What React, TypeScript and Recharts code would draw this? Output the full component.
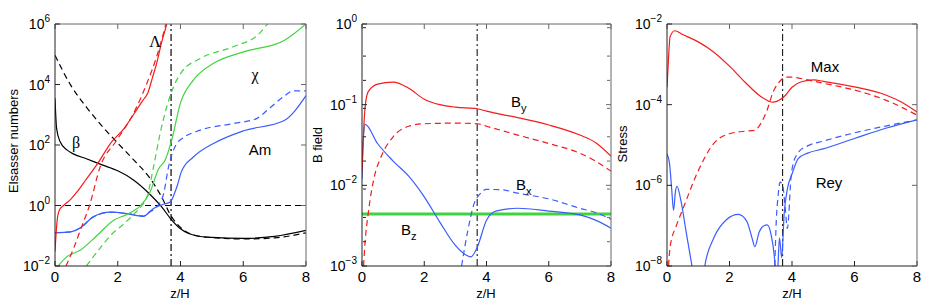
import React from 'react';
import { LineChart, Line, XAxis, YAxis, ReferenceLine } from 'recharts';

const RED = '#f21c1c';
const GREEN = '#3fd43f';
const BLUE = '#3b5cff';
const BLACK = '#000000';

const xTicks = [0, 2, 4, 6, 8];
const elsTicks = [1e-2, 1, 1e2, 1e4, 1e6];
const bTicks = [1e-3, 1e-2, 1e-1, 1];
const bMinor = [
  2e-3, 3e-3, 4e-3, 5e-3, 6e-3, 7e-3, 8e-3, 9e-3,
  2e-2, 3e-2, 4e-2, 5e-2, 6e-2, 7e-2, 8e-2, 9e-2,
  0.2, 0.3, 0.4, 0.5, 0.6, 0.7, 0.8, 0.9,
];
const stressTicks = [1e-8, 1e-6, 1e-4, 1e-2];

// Elsasser numbers panel
const lamX = [0, 0.03, 0.08, 0.15, 0.27, 0.5, 0.7, 1.0, 1.33, 1.8, 2.2, 2.5, 2.8, 2.95, 3.1, 3.24, 3.4, 3.56, 3.7];
const lamSolid = [0.03, 0.1, 0.4, 0.75, 1.0, 1.6, 2.8, 7.5, 22, 125, 350, 1000, 3000, 5000, 1.6e4, 5e4, 2.5e5, 1e6, 5e6];
const lamDashX = [0.35, 0.6, 0.85, 1.1, 1.44, 1.97, 2.5, 2.93, 3.24, 3.51, 3.7];
const lamDash = [0.01, 0.04, 0.2, 1, 19, 145, 1100, 1.1e4, 8.3e4, 8e5, 5e6];

const betaX = [0, 0.05, 0.16, 0.37, 0.6, 1, 1.5, 2, 2.5, 3, 3.4, 3.7, 4, 4.5, 5, 6, 7, 8];
const betaSolid = [3500, 360, 130, 70, 50, 35, 22, 14, 7, 2.5, 0.9, 0.35, 0.17, 0.1, 0.088, 0.082, 0.095, 0.15];
const betaDashX = [0, 0.5, 1, 1.5, 2, 2.5, 3, 3.4, 3.7, 4, 4.5, 5, 6, 7, 8];
const betaDash = [9.3e4, 9.5e3, 1.8e3, 420, 115, 33, 8.7, 1.9, 0.45, 0.19, 0.1, 0.087, 0.078, 0.085, 0.125];

const chiX = [0.1, 0.37, 0.8, 1.33, 1.86, 2.28, 2.5, 2.71, 3.03, 3.3, 3.51, 3.72, 3.99, 4.41, 5.05, 6.01, 7.29, 8];
const chiSolid = [0.01, 0.02, 0.033, 0.1, 0.32, 0.5, 0.66, 0.95, 2.8, 16, 32, 145, 2300, 1.4e4, 5e4, 1.2e5, 2.8e5, 1e6];
const chiDashX = [1.0, 1.4, 1.8, 2.2, 2.5, 2.77, 2.93, 3.14, 3.35, 3.56, 3.78, 4.04, 4.6, 5.7, 6.5, 6.8];
const chiDash = [0.01, 0.035, 0.11, 0.25, 0.5, 1.0, 1.9, 19, 240, 1800, 8500, 2.6e4, 7e4, 1.8e5, 4.7e5, 1.1e6];

const amX = [0, 0.5, 0.8, 1.22, 1.76, 2.29, 2.82, 3.14, 3.46, 3.67, 3.88, 4.04, 4.41, 5.05, 6.01, 7.29, 8];
const amSolid = [0.126, 0.135, 0.18, 0.42, 0.6, 0.54, 0.44, 0.8, 1.1, 1.3, 4, 14, 40, 112, 295, 630, 4300];
const amDashX = [0, 0.5, 0.8, 1.22, 1.76, 2.29, 2.82, 3.0, 3.24, 3.46, 3.62, 3.88, 4.04, 4.63, 5.69, 6.44, 6.76, 7.29, 7.6, 8];
const amDash = [0.126, 0.135, 0.18, 0.42, 0.6, 0.54, 0.45, 0.6, 0.9, 2.4, 19, 112, 160, 310, 510, 760, 1400, 4000, 6200, 6200];

// B field panel
const byX = [0, 0.03, 0.06, 0.1, 0.2, 0.5, 1, 1.5, 2, 2.5, 3, 3.7, 4, 5, 6, 7, 7.5, 8];
const bySolid = [0.015, 0.03, 0.055, 0.093, 0.145, 0.18, 0.19, 0.16, 0.117, 0.1, 0.093, 0.089, 0.083, 0.069, 0.056, 0.042, 0.034, 0.023];
const byDashX = [0.05, 0.1, 0.2, 0.4, 0.6, 1, 1.5, 2, 3, 3.7, 4, 5, 6, 7, 7.5, 8];
const byDash = [1e-3, 2e-3, 4.5e-3, 0.013, 0.022, 0.04, 0.054, 0.058, 0.059, 0.058, 0.054, 0.042, 0.033, 0.025, 0.02, 0.015];
const bxX = [0, 0.03, 0.1, 0.5, 1, 1.5, 2, 2.5, 3, 3.3, 3.5, 3.7, 4, 4.3, 5, 6, 7, 7.5, 8];
const bxSolid = [0.012, 0.03, 0.057, 0.033, 0.02, 0.013, 7.2e-3, 3.5e-3, 1.8e-3, 1.4e-3, 1.3e-3, 1.7e-3, 3.7e-3, 4.8e-3, 5.2e-3, 4.8e-3, 4.3e-3, 3.7e-3, 2.95e-3];
const bxDashX = [3.2, 3.4, 3.6, 3.8, 4, 4.5, 5, 6, 7, 7.5, 8];
const bxDash = [1e-3, 2.75e-3, 5.9e-3, 7.9e-3, 8.9e-3, 8.8e-3, 8e-3, 6.8e-3, 5.2e-3, 4.6e-3, 3.8e-3];
const bzX = [0, 8];
const bzLine = [4.4e-3, 4.4e-3];

// Stress panel
const maxX = [0, 0.05, 0.1, 0.25, 0.5, 1, 1.5, 2, 2.5, 3, 3.4, 3.6, 3.8, 4, 4.3, 4.7, 5, 6, 7, 7.5, 8];
const maxSolid = [2.7e-4, 1.5e-3, 4.9e-3, 6.8e-3, 5.5e-3, 3.6e-3, 2e-3, 9e-4, 3.6e-4, 1.6e-4, 1.15e-4, 1.3e-4, 1.74e-4, 2.7e-4, 3.7e-4, 4.1e-4, 3.8e-4, 2.75e-4, 1.74e-4, 1.17e-4, 6.6e-5];
const maxDashX = [0.05, 0.1, 0.3, 0.5, 1, 1.5, 2, 2.5, 2.8, 3, 3.2, 3.4, 3.6, 3.8, 4, 4.5, 5, 6, 7, 8];
const maxDash = [1e-8, 3e-8, 1e-7, 2.5e-7, 2.3e-6, 1.1e-5, 1.9e-5, 2.2e-5, 2.3e-5, 3.4e-5, 7.2e-5, 2.1e-4, 3.7e-4, 4.8e-4, 4.8e-4, 4.1e-4, 3.4e-4, 2.3e-4, 1.3e-4, 5.5e-5];
const reyX = [0, 0.08, 0.15, 0.21, 0.27, 0.32, 0.45, 0.6, 0.8, 0.95, 1.1, 1.21, 1.5, 1.9, 2.28, 2.55, 2.72, 2.81, 2.95, 3.1, 3.21, 3.33, 3.46, 3.5, 3.55, 3.6, 3.67, 3.75, 3.85, 4.0, 4.2, 4.5, 5, 6, 7, 8];
const reySolid = [6e-6, 3.5e-6, 8e-7, 2.4e-7, 7e-7, 9.5e-7, 4e-7, 8e-8, 1e-8, 2e-9, 2e-9, 1e-8, 5e-8, 1.4e-7, 1.9e-7, 1.3e-7, 5e-8, 3e-8, 7e-8, 1e-7, 1.05e-7, 6e-8, 1e-8, 3e-9, 1e-8, 5e-8, 1.6e-8, 2e-7, 8e-7, 1.9e-6, 4.6e-6, 6.3e-6, 8e-6, 1.45e-5, 2.6e-5, 4.2e-5];
const reyDashX = [3.45, 3.5, 3.55, 3.62, 3.7, 3.78, 3.85, 3.9, 3.95, 4.0, 4.2, 4.5, 5, 6, 7, 8];
const reyDash = [1e-8, 1.5e-7, 5e-7, 1.2e-6, 1e-6, 3e-7, 8.5e-8, 2e-7, 1e-6, 2.5e-6, 6.5e-6, 9.5e-6, 1.25e-5, 2e-5, 2.95e-5, 4.2e-5];

const zTransition = 3.7;

type Curve = { xs: number[]; ys: number[]; color: string; dashed?: boolean; width?: number };

const zip = (xs: number[], ys: number[]) => xs.map((x, i) => ({ x, y: ys[i] }));

const YTick = (props: any) => {
  const { x, y, payload } = props;
  const e = Math.round(Math.log10(payload.value));
  const exp = e < 0 ? '\u2212' + Math.abs(e) : String(e);
  return (
    <text x={x} y={y + 5} textAnchor="end" fontSize={14} fill="#000">
      10<tspan dy={-7} fontSize={10}>{exp}</tspan>
    </text>
  );
};

// empty tick label so the inward tick lines still get drawn
const NoLabel = () => <g />;

interface PanelProps {
  left: number;
  width: number;
  plotLeft: number;
  plotRight: number;
  domain: [number, number];
  ticks: number[];
  minor?: number[];
  curves: Curve[];
  hLine?: number;
  vColor: string;
  vWidth: number;
}

const FRAME = '#222';
const FRAME2 = '#666';

const Panel = ({ left, width, plotLeft, plotRight, domain, ticks, minor, curves, hLine, vColor, vWidth }: PanelProps) => {
  const yCommon = { type: 'number' as const, scale: 'log' as const, domain, allowDataOverflow: true };
  const xCommon = { type: 'number' as const, dataKey: 'x', domain: [0, 8], ticks: xTicks, allowDataOverflow: true };
  return (
    <div style={{ position: 'absolute', left, top: 0 }}>
      <LineChart width={width} height={304} margin={{ top: 24, right: width - plotRight, left: 0, bottom: 0 }}>
        <XAxis {...xCommon} height={38} tickLine={false} tickSize={0} tickMargin={5}
          axisLine={{ stroke: FRAME }} tick={{ fontSize: 15, fill: '#000' }} />
        <XAxis {...xCommon} xAxisId="bin" orientation="bottom" mirror height={1} tick={NoLabel} tickSize={5}
          axisLine={false} tickLine={{ stroke: FRAME }} />
        <XAxis {...xCommon} xAxisId="top" orientation="top" mirror height={1} tick={NoLabel} tickSize={5}
          axisLine={{ stroke: FRAME2 }} tickLine={{ stroke: FRAME2 }} />
        <YAxis {...yCommon} ticks={ticks} width={plotLeft} tickLine={false} tickSize={0} tickMargin={5}
          axisLine={{ stroke: FRAME }} tick={(p: any) => <YTick {...p} />} />
        <YAxis {...yCommon} yAxisId="lin" ticks={ticks} orientation="left" mirror width={1} tick={NoLabel} tickSize={5}
          axisLine={false} tickLine={{ stroke: FRAME }} />
        <YAxis {...yCommon} yAxisId="rin" ticks={ticks} orientation="right" mirror width={1} tick={NoLabel} tickSize={5}
          axisLine={{ stroke: FRAME2 }} tickLine={{ stroke: FRAME2 }} />
        {minor && (
          <YAxis {...yCommon} yAxisId="lmin" ticks={minor} orientation="left" mirror width={1} tick={NoLabel} tickSize={3}
            axisLine={false} tickLine={{ stroke: FRAME }} />
        )}
        {minor && (
          <YAxis {...yCommon} yAxisId="rmin" ticks={minor} orientation="right" mirror width={1} tick={NoLabel} tickSize={3}
            axisLine={false} tickLine={{ stroke: FRAME2 }} />
        )}
        {hLine !== undefined && (
          <ReferenceLine y={hLine} stroke="#000" strokeWidth={1} strokeDasharray="6 4" />
        )}
        <ReferenceLine x={zTransition} stroke={vColor} strokeWidth={vWidth} strokeDasharray="7 3 2 3" />
        {curves.map((c, i) => (
          <Line key={i} data={zip(c.xs, c.ys)} dataKey="y" type="monotone" stroke={c.color}
            strokeWidth={c.width ?? 1.2} strokeDasharray={c.dashed ? '6 4' : undefined}
            dot={false} activeDot={false} isAnimationActive={false} />
        ))}
      </LineChart>
    </div>
  );
};

const elsCurves: Curve[] = [
  { xs: betaX, ys: betaSolid, color: BLACK },
  { xs: betaDashX, ys: betaDash, color: BLACK, dashed: true },
  { xs: amX, ys: amSolid, color: BLUE },
  { xs: amDashX, ys: amDash, color: BLUE, dashed: true },
  { xs: chiX, ys: chiSolid, color: GREEN },
  { xs: chiDashX, ys: chiDash, color: GREEN, dashed: true },
  { xs: lamX, ys: lamSolid, color: RED },
  { xs: lamDashX, ys: lamDash, color: RED, dashed: true },
];

const bCurves: Curve[] = [
  { xs: bzX, ys: bzLine, color: GREEN, width: 3 },
  { xs: bxX, ys: bxSolid, color: BLUE },
  { xs: bxDashX, ys: bxDash, color: BLUE, dashed: true },
  { xs: byX, ys: bySolid, color: RED },
  { xs: byDashX, ys: byDash, color: RED, dashed: true },
];

const stressCurves: Curve[] = [
  { xs: reyX, ys: reySolid, color: BLUE },
  { xs: reyDashX, ys: reyDash, color: BLUE, dashed: true },
  { xs: maxX, ys: maxSolid, color: RED },
  { xs: maxDashX, ys: maxDash, color: RED, dashed: true },
];

export default function App() {
  return (
    <div style={{ position: 'absolute', left: 0, top: 0, width: 926, height: 304, background: '#fff',
      fontFamily: '"Liberation Sans", Arial, sans-serif', overflow: 'hidden' }}>
      <Panel left={0} width={310} plotLeft={55} plotRight={306} domain={[1e-2, 1e6]} ticks={elsTicks}
        curves={elsCurves} hLine={1} vColor="#444" vWidth={1.6} />
      <Panel left={310} width={305} plotLeft={52} plotRight={301} domain={[1e-3, 1]} ticks={bTicks}
        minor={bMinor} curves={bCurves} vColor="#000" vWidth={1} />
      <Panel left={615} width={311} plotLeft={52} plotRight={302} domain={[1e-8, 1e-2]} ticks={stressTicks}
        curves={stressCurves} vColor="#000" vWidth={1} />
      <svg width={926} height={304} style={{ position: 'absolute', left: 0, top: 0, pointerEvents: 'none' }}>
        <g fontSize={13} fill="#000" textAnchor="middle">
          <text transform="translate(18,141) rotate(-90)">Elsasser numbers</text>
          <text transform="translate(322,145) rotate(-90)">B field</text>
          <text transform="translate(627,144) rotate(-90)">Stress</text>
          <text x={180} y={298}>z/H</text>
          <text x={486} y={298}>z/H</text>
          <text x={792} y={298}>z/H</text>
        </g>
        <g fontFamily='"Liberation Serif", serif' fontSize={16} fill="#000" textAnchor="middle">
          <text x={155} y={47}>Λ</text>
          <text x={76} y={148}>β</text>
          <text x={255} y={80}>χ</text>
        </g>
        <g fontSize={15} fill="#000">
          <text x={260} y={155} textAnchor="middle">Am</text>
          <text x={825} y={72} textAnchor="middle">Max</text>
          <text x={829} y={188} textAnchor="middle">Rey</text>
          <text x={511} y={107}>B<tspan dy={5} fontSize={11}>y</tspan></text>
          <text x={516} y={190}>B<tspan dy={5} fontSize={11}>x</tspan></text>
          <text x={401} y={235}>B<tspan dy={5} fontSize={11}>z</tspan></text>
        </g>
      </svg>
    </div>
  );
}
